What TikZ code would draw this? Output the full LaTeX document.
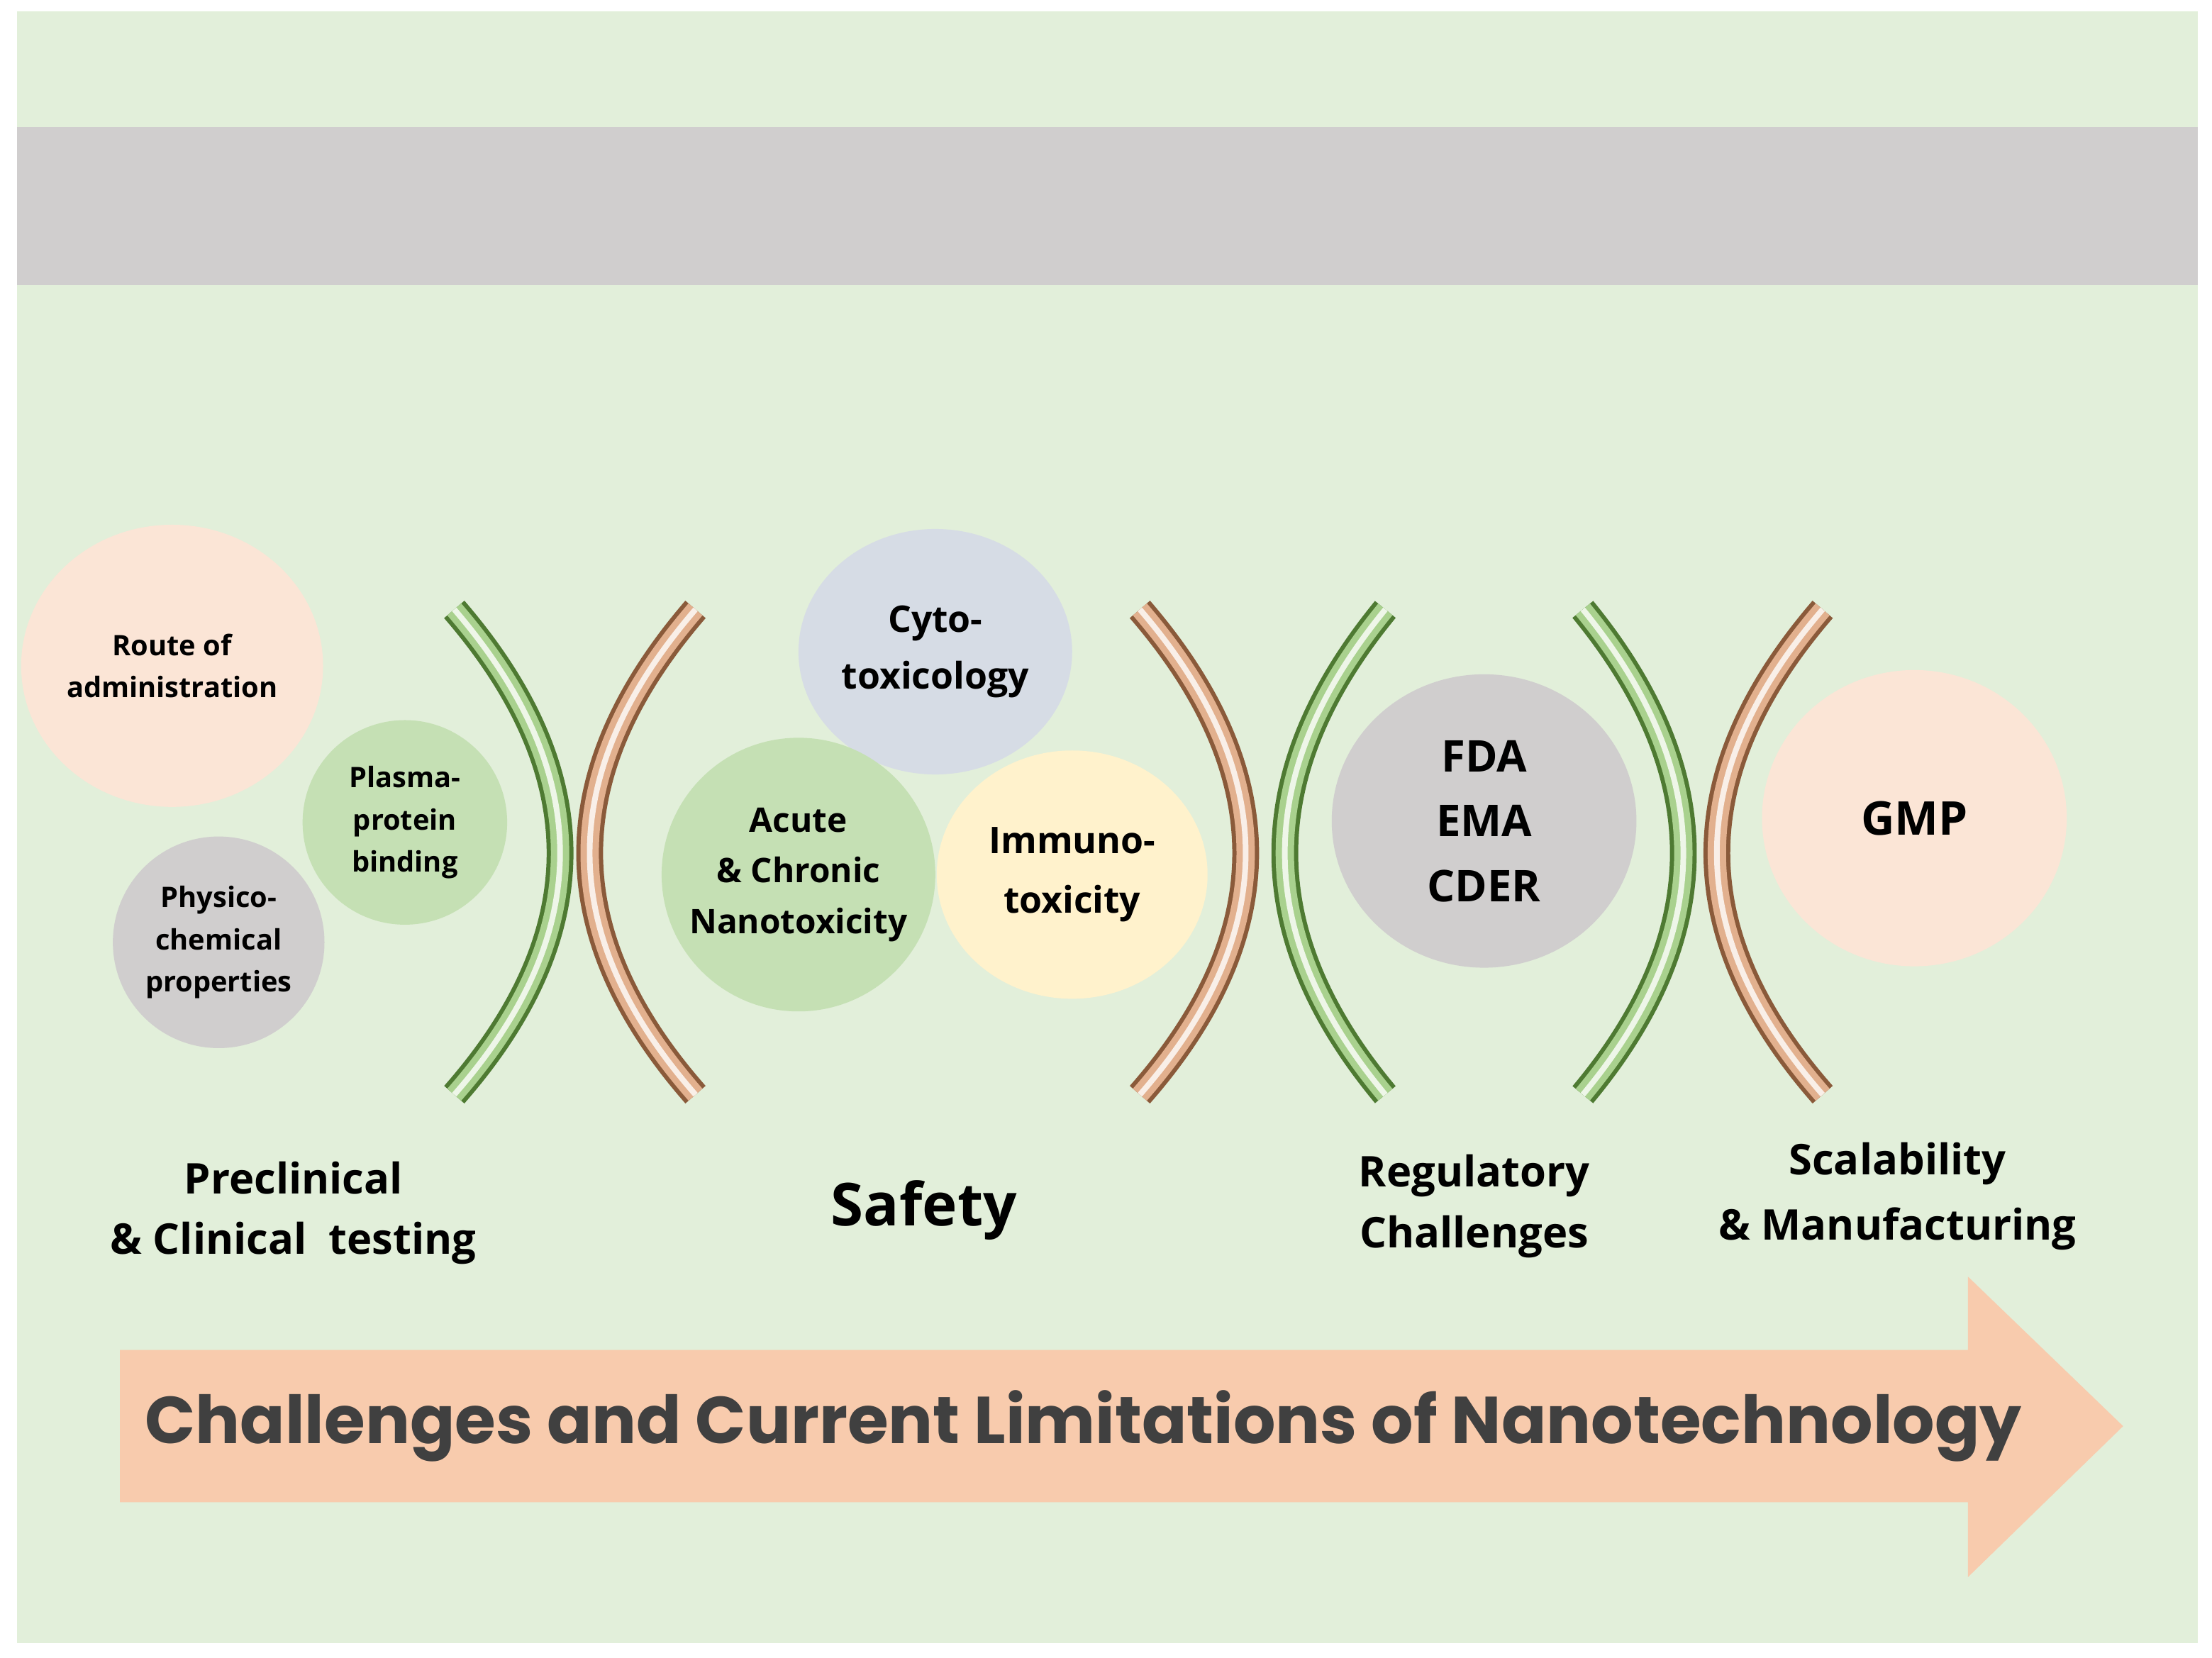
\documentclass[tikz,border=0pt]{standalone}
\usepackage{fontspec}
\usetikzlibrary{shapes.geometric}
\setmainfont{Open Sans}
\newfontfamily\arrowfont{Poppins}
\definecolor{bggreen}{HTML}{E2EFDA}
\definecolor{band}{HTML}{D0CECE}
\definecolor{peach}{HTML}{FBE5D6}
\definecolor{lgreen}{HTML}{C5E0B4}
\definecolor{lgray}{HTML}{D0CECE}
\definecolor{lblue}{HTML}{D6DCE5}
\definecolor{lyellow}{HTML}{FFF2CC}
\definecolor{arrowfill}{HTML}{F8CBAD}
\definecolor{dgreen}{HTML}{4E7A32}
\definecolor{mgreen}{HTML}{A9D18E}
\definecolor{dbrown}{HTML}{8A5A3A}
\definecolor{mbrown}{HTML}{E2B08E}
\newcommand{\fs}[2]{\fontsize{#1}{#2}\selectfont}
\tikzset{
 circ/.style={fill=#1, draw=none, align=center, font=\bfseries},
 lbl/.style={align=center, font=\bfseries, text=black},
}
\newcommand{\bracket}[4]{% x0, k, dark, mid
 \draw[line width=19pt,#3,line cap=butt] (#1,432) .. controls ({#1+#2},548) and ({#1+#2},662) .. (#1,776);
 \draw[line width=13pt,#4] (#1,432) .. controls ({#1+#2},548) and ({#1+#2},662) .. (#1,776);
 \draw[line width=4pt,white!80!#4] (#1,432) .. controls ({#1+#2},548) and ({#1+#2},662) .. (#1,776);
}
\begin{document}
\begin{tikzpicture}[x=1pt,y=-1pt]
\useasboundingbox (0,0) rectangle (1568,1175);
\fill[white] (0,0) rectangle (1568,1175);
\fill[bggreen] (12,8) rectangle (1558,1165);
\fill[band] (12,90) rectangle (1558,202);
% circles
\node[circ=peach, ellipse, minimum width=214pt, minimum height=200pt] (route) at (122,472) {};
\node[lbl, font=\bfseries\fs{20}{30}] at (route) {Route of\\administration};
\node[circ=lgreen, circle, minimum size=145pt] (plasma) at (287,583) {};
\node[lbl, font=\bfseries\fs{20}{30}] at (plasma) {Plasma-\\protein\\binding};
\node[circ=lgray, circle, minimum size=150pt] (physico) at (155,668) {};
\node[lbl, font=\bfseries\fs{20}{30}] at (physico) {Physico-\\chemical\\properties};
\node[circ=lblue, ellipse, minimum width=194pt, minimum height=174pt] (cyto) at (663,462) {};
\node[lbl, font=\bfseries\fs{26}{40}] at (cyto) {Cyto-\\toxicology};
\node[circ=lgreen, circle, minimum size=194pt] (acute) at (566,620) {};
\node[lbl, font=\bfseries\fs{24}{36}] at (acute) {Acute\\\& Chronic\\Nanotoxicity};
\node[circ=lyellow, ellipse, minimum width=192pt, minimum height=176pt] (immuno) at (760,620) {};
\node[lbl, font=\bfseries\fs{26}{42}] at (immuno) {Immuno-\\toxicity};
\node[circ=lgray, ellipse, minimum width=216pt, minimum height=208pt] (fda) at (1052,582) {};
\node[lbl, font=\bfseries\fs{31}{46}] at (fda) {FDA\\EMA\\CDER};
\node[circ=peach, ellipse, minimum width=216pt, minimum height=210pt] (gmp) at (1357,580) {};
\node[lbl, font=\bfseries\fs{33}{40}] at (gmp) {GMP};
% brackets
\bracket{322}{100}{dgreen}{mgreen}
\bracket{493}{-100}{dbrown}{mbrown}
\bracket{808}{100}{dbrown}{mbrown}
\bracket{982}{-95}{dgreen}{mgreen}
\bracket{1122}{95}{dgreen}{mgreen}
\bracket{1292}{-100}{dbrown}{mbrown}
% labels
\node[lbl, font=\bfseries\fs{30}{43}] (l1) at (208,860) {Preclinical\\\& Clinical\ \ testing};
\node[lbl, font=\bfseries\fs{42}{50}] (l2) at (655,858) {Safety};
\node[lbl, font=\bfseries\fs{30}{43}] (l3) at (1045,855) {Regulatory\\Challenges};
\node[lbl, font=\bfseries\fs{30}{46}] (l4) at (1345,848) {Scalability\\\& Manufacturing};
% arrow
\fill[arrowfill] (85,957) -- (1395,957) -- (1395,905) -- (1505,1011) -- (1395,1118) -- (1395,1065) -- (85,1065) -- cycle;
\node[font=\arrowfont\bfseries\fs{47}{52}, text=black!75] (title) at (768,1011) {Challenges and Current Limitations of Nanotechnology};
\end{tikzpicture}
\end{document}
